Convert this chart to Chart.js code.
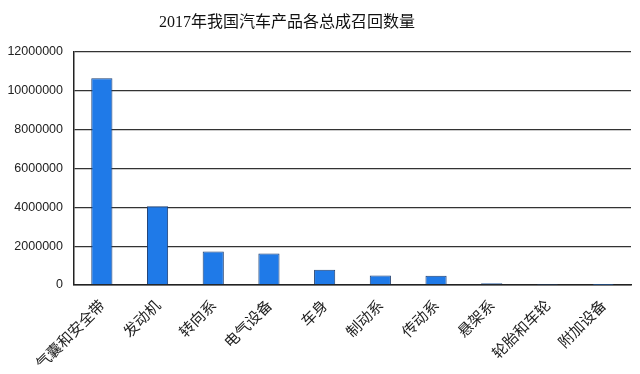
<!DOCTYPE html>
<html>
<head>
<meta charset="utf-8">
<script src="https://cdn.jsdelivr.net/npm/chart.js@4/dist/chart.umd.min.js"></script>
<style>
  html, body { margin: 0; padding: 0; background: #fff; }
  #wrap { position: relative; width: 640px; height: 374px; }
  #title { position: absolute; top: 8px; left: 0; width: 574px; text-align: center;
    font-family: "Liberation Serif", "DejaVu Serif", "Noto Sans CJK SC", serif; font-size: 16px; color: #111; }
  canvas { position: absolute; left: 0; top: 0; }
</style>
</head>
<body>
<div id="wrap">
  <canvas id="c" width="640" height="374"></canvas>
  <div id="title">2017年我国汽车产品各总成召回数量</div>
</div>
<script>
const categories = ["气囊和安全带", "发动机", "转向系", "电气设备", "车身", "制动系", "传动系", "悬架系", "轮胎和车轮", "附加设备"];
const recallCounts = [10650000, 4060000, 1730000, 1620000, 780000, 490000, 470000, 90000, 8000, 3000];
const yTicks = [0, 2000000, 4000000, 6000000, 8000000, 10000000, 12000000];

new Chart(document.getElementById('c'), {
  type: 'bar',
  data: {
    labels: categories,
    datasets: [{
      data: recallCounts,
      backgroundColor: '#1F7AE8',
      borderColor: '#1D3E70',
      borderWidth: 1,
      categoryPercentage: 1,
      barPercentage: 0.38
    }]
  },
  options: {
    responsive: false,
    animation: false,
    layout: { padding: { top: 52, right: 9, bottom: 0, left: 0 } },
    plugins: { legend: { display: false }, title: { display: false }, tooltip: { enabled: false } },
    scales: {
      x: {
        afterFit: (s) => { s.paddingLeft = 0; s.paddingRight = 0; s.height = 89; },
        grid: { display: false, drawTicks: false },
        border: { display: true, color: '#222', width: 1.5 },
        ticks: {
          autoSkip: false, maxRotation: 45, minRotation: 45, padding: 11,
          color: '#222',
          font: { family: '"Noto Sans CJK SC", sans-serif', size: 15 }
        }
      },
      y: {
        min: 0, max: 12000000,
        afterBuildTicks: (scale) => { scale.ticks = yTicks.map(v => ({ value: v })); },
        afterFit: (s) => { s.width = 74; },
        grid: { color: '#333', lineWidth: 1.3, drawTicks: false },
        border: { display: true, color: '#222', width: 1.5 },
        ticks: {
          padding: 11,
          color: '#222',
          font: { family: '"Liberation Sans", sans-serif', size: 12.5 },
          callback: (v) => String(v)
        }
      }
    }
  }
});
</script>
</body>
</html>
